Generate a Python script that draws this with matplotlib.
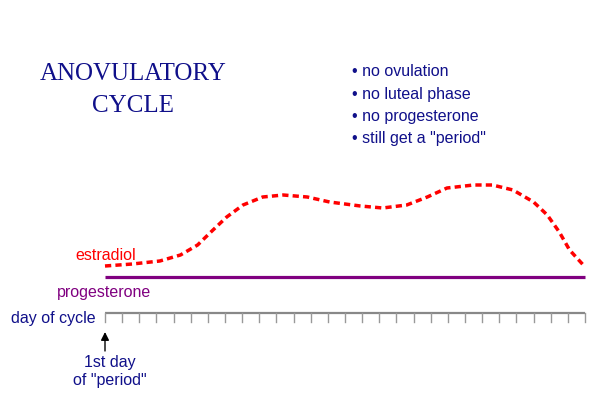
import numpy as np
import matplotlib.pyplot as plt

# estradiol level (day of cycle, level above progesterone line)
est_day = [1, 2.6, 4.2, 5.4, 6.4, 7.3, 8.1, 9.05, 10.2, 11.4, 12.8, 14.1, 15.9,
           17.2, 18.6, 19.8, 20.95, 22.5, 23.6, 24.8, 26.0, 26.8, 27.5, 28.1, 28.9, 29]
est_level = [11, 13, 16, 22, 32, 47, 60, 72, 80, 82, 80, 75, 71,
             69, 72, 80, 89, 92, 92, 87, 75, 62, 45, 27, 12, 11]
prog_day = [1, 29]
prog_level = [0, 0]
days = np.arange(1, 30)
bullets = ['no ovulation', 'no luteal phase', 'no progesterone', 'still get a "period"']

navy = '#10108a'
sans = 'Liberation Sans'
fs = 11.5

fig = plt.figure(figsize=(6, 3.94), dpi=100)
ax = fig.add_axes([0, 0, 1, 1])
px = 480 / 28  # pixels per day
ax.set_xlim(1 - 105 / px, 1 + 495 / px)
ax.set_ylim(-117, 277)
ax.axis('off')

def X(p):
    return 1 + (p - 105) / px

def Y(p):
    return 277 - p

ax.plot(est_day, est_level, color='red', lw=2.5, ls=(0, (1.8, 1.2)), solid_capstyle='butt')
ax.plot(prog_day, prog_level, color='#800080', lw=2.3, solid_capstyle='butt')

# day-of-cycle axis
ax.plot([1, 29], [-36, -36], color='#888888', lw=1.6, solid_capstyle='butt')
for d in days:
    ax.plot([d, d], [-36, -45], color='#999999', lw=1.0)

ax.annotate('', xy=(1, -55), xytext=(1, -74),
            arrowprops=dict(arrowstyle='-|>', color='black', lw=1.0,
                            mutation_scale=12, shrinkA=0, shrinkB=0))

ax.text(X(133), Y(74), 'ANOVULATORY', family='Liberation Serif',
        fontsize=18, color=navy, ha='center', va='center')
ax.text(X(133), Y(106), 'CYCLE', family='Liberation Serif',
        fontsize=18, color=navy, ha='center', va='center')
for i, b in enumerate(bullets):
    ax.text(X(352), Y(72 + 22 * i), '\u2022 ' + b, family=sans,
            fontsize=fs, color=navy, ha='left', va='center')

ax.text(X(75), Y(255), 'estradiol', family=sans, fontsize=fs,
        color='red', ha='left', va='center')
ax.text(X(57), Y(292), 'progesterone', family=sans, fontsize=fs,
        color='#800080', ha='left', va='center')
ax.text(X(96), Y(318), 'day of cycle', family=sans, fontsize=fs,
        color=navy, ha='right', va='center')
ax.text(X(110), Y(372), '1st day\nof "period"', family=sans,
        fontsize=fs, color=navy, ha='center', va='center', linespacing=1.25)

fig.savefig('out.png', dpi=100)
